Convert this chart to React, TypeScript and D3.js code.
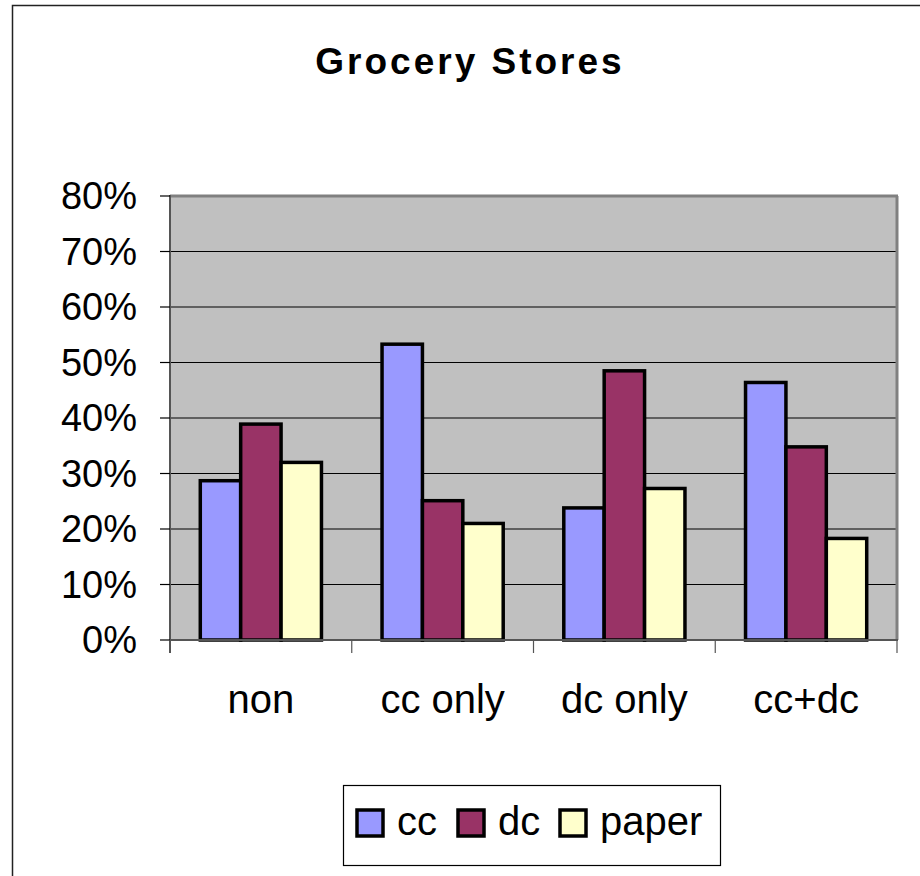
import React from "react";
import * as d3 from "d3";

const categories = ["non", "cc only", "dc only", "cc+dc"];
const seriesNames = ["cc", "dc", "paper"];
const ccValues = [0.287, 0.533, 0.238, 0.464];
const dcValues = [0.389, 0.251, 0.485, 0.348];
const paperValues = [0.32, 0.21, 0.273, 0.183];
const yTicks = [0, 0.1, 0.2, 0.3, 0.4, 0.5, 0.6, 0.7, 0.8];
const colors = ["#9999FF", "#993366", "#FFFFCC"];

const W = 920;
const H = 876;
const FONT = "'Liberation Sans', Arial, sans-serif";

export default function App() {
  const series = [ccValues, dcValues, paperValues];
  const left = 170, right = 897, top = 196, bottom = 640;
  const x = d3.scaleBand<string>().domain(categories).range([left, right]).paddingInner(0).paddingOuter(0);
  const y = d3.scaleLinear().domain([0, 0.8]).range([bottom, top]);
  const bw = x.bandwidth() / 4.5;
  const inner = d3.scaleBand<string>().domain(seriesNames).range([0.75 * bw, 0.75 * bw + 3 * bw]);
  const fmt = d3.format(".0%");
  const boundaries = categories.map((c) => x(c) as number).concat([right]);

  return (
    <svg width={W} height={H} style={{ position: "absolute", left: 0, top: 0, background: "#fff" }}>
      <rect x={12.5} y={5.5} width={1000} height={1000} fill="#fff" stroke="#222" strokeWidth={1.5} />
      <text x={470} y={74} textAnchor="middle" fontFamily={FONT} fontWeight="bold" fontSize={37} letterSpacing={3}>
        Grocery Stores
      </text>
      <rect x={left} y={top} width={right - left} height={bottom - top} fill="#C0C0C0" />
      {yTicks.filter((t) => t > 0 && t < 0.8).map((t) => (
        <line key={t} x1={left} x2={right} y1={y(t)} y2={y(t)} stroke="#000" strokeWidth={1} />
      ))}
      {/* plot border top & right */}
      <line x1={left} x2={right + 1} y1={top} y2={top} stroke="#808080" strokeWidth={3} />
      <line x1={right} x2={right} y1={top} y2={bottom} stroke="#808080" strokeWidth={3} />
      {series.map((vals, si) =>
        categories.map((c, ci) => (
          <rect
            key={`${si}-${ci}`}
            x={(x(c) as number) + (inner(seriesNames[si]) as number)}
            y={y(vals[ci])}
            width={bw}
            height={bottom - y(vals[ci])}
            fill={colors[si]}
            stroke="#000"
            strokeWidth={3.5}
          />
        ))
      )}
      {/* axes */}
      <line x1={left} x2={left} y1={top - 1} y2={bottom + 13} stroke="#555" strokeWidth={2} />
      <line x1={left} x2={right + 1} y1={bottom} y2={bottom} stroke="#555" strokeWidth={2} />
      {yTicks.map((t) => (
        <g key={t}>
          <line x1={160} x2={left} y1={y(t)} y2={y(t)} stroke="#000" strokeWidth={1.2} />
          <text x={137} y={y(t) + 13} textAnchor="end" fontFamily={FONT} fontSize={38}>
            {fmt(t)}
          </text>
        </g>
      ))}
      {boundaries.map((b, i) => (
        <line key={i} x1={b} x2={b} y1={bottom} y2={bottom + 13} stroke="#555" strokeWidth={1.2} />
      ))}
      {categories.map((c) => (
        <text key={c} x={(x(c) as number) + x.bandwidth() / 2} y={713} textAnchor="middle" fontFamily={FONT} fontSize={40}>
          {c}
        </text>
      ))}
      {/* legend */}
      <rect x={343.5} y={785.5} width={377} height={80} fill="#fff" stroke="#000" strokeWidth={1.2} />
      {seriesNames.map((s, i) => {
        const sx = [357, 458, 560][i];
        return (
          <g key={s}>
            <rect x={sx} y={810} width={26} height={26} fill={colors[i]} stroke="#000" strokeWidth={3.5} />
            <text x={sx + 40} y={835} fontFamily={FONT} fontSize={40}>
              {s}
            </text>
          </g>
        );
      })}
    </svg>
  );
}
